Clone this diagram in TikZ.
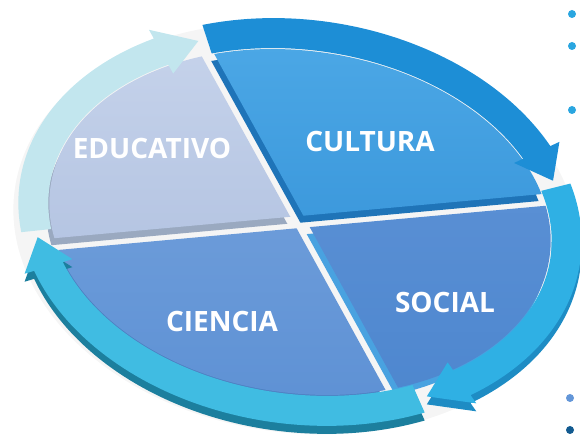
\documentclass[tikz,border=0pt]{standalone}
\usepackage{fontspec}
\setmainfont{Open Sans}
\usepackage{tikz}

\definecolor{eduface}{HTML}{C6D3EB}
\definecolor{eduface2}{HTML}{A9BBDC}
\definecolor{eduside}{HTML}{9AA9C0}
\definecolor{culface}{HTML}{4CA8E6}
\definecolor{culface2}{HTML}{2E8BD3}
\definecolor{culside}{HTML}{1F74B8}
\definecolor{socface}{HTML}{6396D8}
\definecolor{socface2}{HTML}{4E87CF}
\definecolor{socside}{HTML}{49A2E0}
\definecolor{cieface}{HTML}{7AA6DE}
\definecolor{cieface2}{HTML}{5F92D5}
\definecolor{cieside}{HTML}{4E80C2}
\definecolor{eduring}{HTML}{C2E6EE}
\definecolor{eduringside}{HTML}{93CAD8}
\definecolor{culring}{HTML}{1D8ED6}
\definecolor{culringside}{HTML}{1670B4}
\definecolor{socring}{HTML}{2FB0E4}
\definecolor{socringside}{HTML}{1E8CC4}
\definecolor{ciering}{HTML}{40BCE2}
\definecolor{cieringside}{HTML}{1C7F9E}
\definecolor{dotcyan}{HTML}{2AA6E0}

\tikzset{
  lbl/.style={text=white,font=\fontsize{28}{30}\selectfont\bfseries},
  dot/.style={circle,inner sep=0pt,minimum size=8pt}
}

% one quarter of the ring, running clockwise from #2 to #3 (head at #3)
\newcommand{\ringarrow}[3]{%
  \fill[#1] (#2:283 and 202) arc[start angle=#2,end angle={#3+9},x radius=283,y radius=202]
    -- ({#3+9}:293 and 212) -- (#3:268 and 187) -- ({#3+9}:243 and 162)
    -- ({#3+9}:253 and 172) arc[start angle={#3+9},end angle=#2,x radius=253,y radius=172] -- cycle;}

\begin{document}
\begin{tikzpicture}[x=1pt,y=1pt]
	\clip (0,0) rectangle (580,443);
	\fill[gray!8,rotate around={-8:(300,221)}] (297,214) ellipse [x radius=284,y radius=204];
	% slabs
	\begin{scope}[shift={(-3,-7)}]
		\clip (290.3,226.2) -- (155.7,470.1) -- (-20,480) -- (-20.5,198) -- cycle;
		\fill[eduside,rotate around={-8:(300,221)}] (300,221) ellipse [x radius=252,y radius=171];
	\end{scope}
	\begin{scope}
		\clip (290.3,226.2) -- (155.7,470.1) -- (-20,480) -- (-20.5,198) -- cycle;
		\shade[top color=eduface,bottom color=eduface2,rotate around={-8:(300,221)}] (300,221) ellipse [x radius=252,y radius=171];
	\end{scope}
	\begin{scope}[shift={(-3,-7)}]
		\clip (303.4,227.3) -- (166.3,475.9) -- (620,480) -- (619.5,256) -- cycle;
		\fill[culside,rotate around={-8:(300,221)}] (300,221) ellipse [x radius=252,y radius=171];
	\end{scope}
	\begin{scope}
		\clip (303.4,227.3) -- (166.3,475.9) -- (620,480) -- (619.5,256) -- cycle;
		\shade[top color=culface,bottom color=culface2,rotate around={-8:(300,221)}] (300,221) ellipse [x radius=252,y radius=171];
	\end{scope}
	\begin{scope}[shift={(-3,-7)}]
		\clip (309.7,215.9) -- (620.5,244) -- (620,-40) -- (447.3,-34.1) -- cycle;
		\fill[socside,rotate around={-8:(300,221)}] (300,221) ellipse [x radius=252,y radius=171];
	\end{scope}
	\begin{scope}
		\clip (309.7,215.9) -- (620.5,244) -- (620,-40) -- (447.3,-34.1) -- cycle;
		\shade[top color=socface,bottom color=socface2,rotate around={-8:(300,221)}] (300,221) ellipse [x radius=252,y radius=171];
	\end{scope}
	\begin{scope}[shift={(-3,-7)}]
		\clip (296.6,214.7) -- (436.7,-39.9) -- (-20,-40) -- (-19.5,186) -- cycle;
		\fill[cieside,rotate around={-8:(300,221)}] (300,221) ellipse [x radius=252,y radius=171];
	\end{scope}
	\begin{scope}
		\clip (296.6,214.7) -- (436.7,-39.9) -- (-20,-40) -- (-19.5,186) -- cycle;
		\shade[top color=cieface,bottom color=cieface2,rotate around={-8:(300,221)}] (300,221) ellipse [x radius=252,y radius=171];
	\end{scope}
	% ring
	\begin{scope}
		\clip (0,0) rectangle (580,200);
		\begin{scope}[shift={(300,213)},rotate=-8]
			\ringarrow{eduringside}{194}{118}
			\ringarrow{culringside}{116}{24}
			\ringarrow{socringside}{22}{-56}
			\ringarrow{cieringside}{-58}{-164}
		\end{scope}
	\end{scope}
	\begin{scope}[shift={(300,221)},rotate=-8]
		\ringarrow{eduring}{194}{118}
		\ringarrow{culring}{116}{24}
		\ringarrow{socring}{22}{-56}
		\ringarrow{ciering}{-58}{-164}
	\end{scope}
	% labels
	\node[lbl] (educ) at (152,295) {EDUCATIVO};
	\node[lbl] (cult) at (370,301) {CULTURA};
	\node[lbl] (soc) at (445,141) {SOCIAL};
	\node[lbl] (cie) at (222,121) {CIENCIA};
	% bullets at the right edge
	\node[dot,fill=dotcyan] (b1) at (572,429) {};
	\node[dot,fill=dotcyan] (b2) at (572,397) {};
	\node[dot,fill=dotcyan] (b3) at (572,333) {};
	\node[dot,fill=socface] (b4) at (570,45) {};
	\node[dot,fill=culringside!80!black] (b5) at (570,13) {};
\end{tikzpicture}
\end{document}
